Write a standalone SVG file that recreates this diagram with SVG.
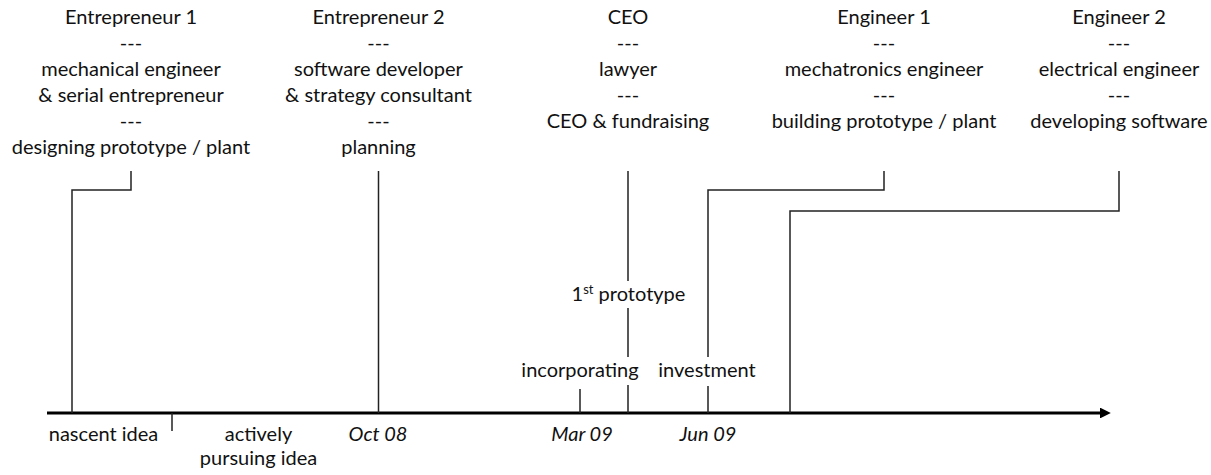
<svg xmlns="http://www.w3.org/2000/svg" width="1211" height="475" viewBox="0 0 1211 475">
<style>
text{font-family:Lato,"Liberation Sans",sans-serif;font-size:20px;fill:#111;text-anchor:middle}
.it{font-style:italic}
.ln{stroke:#222;stroke-width:1.5;fill:none}
.ax{stroke:#000;stroke-width:3;fill:none}
</style>
<defs>
<marker id="ah" viewBox="0 0 10 10" refX="0" refY="5" markerWidth="6" markerHeight="3.6" markerUnits="strokeWidth" orient="auto">
<path d="M0,0L10,5L0,10z" fill="#000"/>
</marker>
</defs>
<rect width="1211" height="475" fill="#fff"/>
<g id="connectors">
<path class="ax" d="M47,413H1100" marker-end="url(#ah)"/>
<path class="ln" d="M131,171V190H72V413"/>
<path class="ln" d="M378.5,171V413"/>
<path class="ln" d="M628,171V281M628,308V357M628,385V413"/>
<path class="ln" d="M884,171V190H708V357M708,386V413"/>
<path class="ln" d="M1119,171V211H790V413"/>
<path class="ln" d="M172,413V431"/>
<path class="ln" d="M580,389V413"/>
</g>
<g id="entrepreneur1">
<text x="131" y="24">Entrepreneur 1</text>
<text x="131" y="50">---</text>
<text x="131" y="76">mechanical engineer</text>
<text x="131" y="102">&amp; serial entrepreneur</text>
<text x="131" y="128">---</text>
<text x="131" y="154">designing prototype / plant</text>
</g>
<g id="entrepreneur2">
<text x="378.5" y="24">Entrepreneur 2</text>
<text x="378.5" y="50">---</text>
<text x="378.5" y="76">software developer</text>
<text x="378.5" y="102">&amp; strategy consultant</text>
<text x="378.5" y="128">---</text>
<text x="378.5" y="154">planning</text>
</g>
<g id="ceo">
<text x="628" y="24">CEO</text>
<text x="628" y="50">---</text>
<text x="628" y="76">lawyer</text>
<text x="628" y="102">---</text>
<text x="628" y="128">CEO &amp; fundraising</text>
</g>
<g id="engineer1">
<text x="884" y="24">Engineer 1</text>
<text x="884" y="50">---</text>
<text x="884" y="76">mechatronics engineer</text>
<text x="884" y="102">---</text>
<text x="884" y="128">building prototype / plant</text>
</g>
<g id="engineer2">
<text x="1119" y="24">Engineer 2</text>
<text x="1119" y="50">---</text>
<text x="1119" y="76">electrical engineer</text>
<text x="1119" y="102">---</text>
<text x="1119" y="128">developing software</text>
</g>
<g id="prototype"><text x="628.5" y="301">1<tspan font-size="13" dy="-7">st</tspan><tspan dy="7"> prototype</tspan></text></g>
<g id="incorporating"><text x="580" y="377">incorporating</text></g>
<g id="investment"><text x="707" y="377">investment</text></g>
<g id="nascent"><text x="103.5" y="441">nascent idea</text></g>
<g id="pursuing"><text x="258.5" y="441">actively</text><text x="258.5" y="465">pursuing idea</text></g>
<g id="oct08"><text class="it" x="378" y="441">Oct 08</text></g>
<g id="mar09"><text class="it" x="582" y="441">Mar 09</text></g>
<g id="jun09"><text class="it" x="708" y="441">Jun 09</text></g>
</svg>
